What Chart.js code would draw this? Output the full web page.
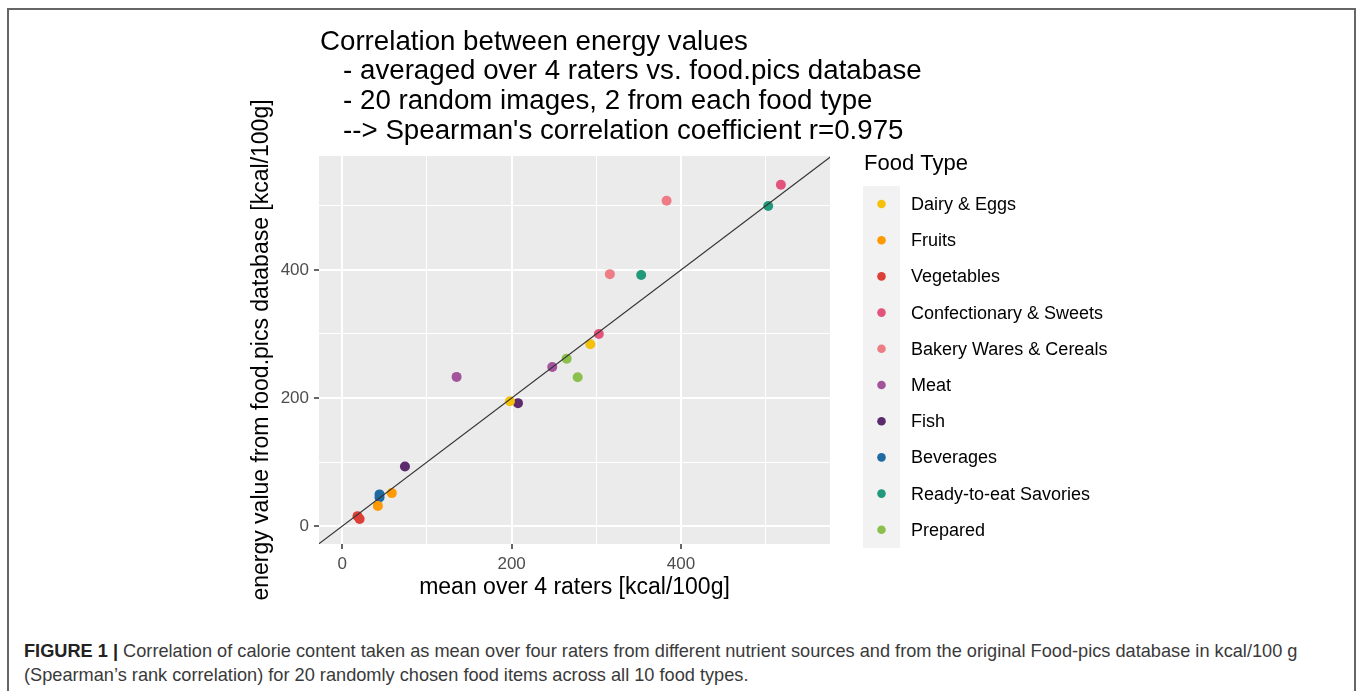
<!DOCTYPE html>
<html>
<head>
<meta charset="utf-8">
<script src="https://cdn.jsdelivr.net/npm/chart.js@4.4.0/dist/chart.umd.min.js"></script>
<style>
  body { margin: 0; background: #fff; width: 1358px; height: 691px; overflow: hidden; position: relative;
         font-family: "Liberation Sans", Arial, sans-serif; }
  #frame { position: absolute; left: 7px; top: 8px; width: 1349px; height: 720px;
           border: 2px solid #666; border-bottom: none; box-sizing: border-box; }
  #wrap { position: absolute; left: 0; top: 0; width: 1358px; height: 620px; }
  #caption { position: absolute; left: 24px; top: 639px; width: 1320px; font-size: 18.2px;
             line-height: 24px; color: #3a3a3a; white-space: nowrap; }
  #caption b { color: #222; }
</style>
</head>
<body>
<div id="frame"></div>
<div id="wrap"><canvas id="myChart"></canvas></div>
<div id="caption"><b>FIGURE 1 |</b> Correlation of calorie content taken as mean over four raters from different nutrient sources and from the original Food-pics database in kcal/100 g<br>(Spearman’s rank correlation) for 20 randomly chosen food items across all 10 food types.</div>

<script>
const foodTypes = ['Dairy & Eggs', 'Fruits', 'Vegetables', 'Confectionary & Sweets', 'Bakery Wares & Cereals',
    'Meat', 'Fish', 'Beverages', 'Ready-to-eat Savories', 'Prepared'];
const typeColors = ['#F4C20D', '#FD9A04', '#DC3F36', '#E2547B', '#EE7C87',
    '#A3529C', '#5B2B6E', '#1F6BA1', '#21997A', '#8CC04E'];

// one entry per image: food type index, mean over 4 raters, food.pics value
const pointType     = [0, 0, 1, 1, 2, 2, 3, 3, 4, 4, 5, 5, 6, 6, 7, 7, 8, 8, 9, 9];
const raterMean     = [198, 293, 42, 58.5, 18, 20.5, 303, 518, 316, 383, 135, 248, 74, 207.5, 44, 44, 353, 503, 265, 278];
const databaseValue = [195, 284, 31.5, 51.5, 15.5, 11, 300, 533, 393.5, 508, 233, 248.5, 93, 192, 49.5, 44.5, 392, 500, 261.5, 232.5];

const xTickValues = [0, 100, 200, 300, 400, 500];
const yTickValues = [0, 100, 200, 300, 400, 500];
const labeledTicks = [0, 200, 400];

const titleLines = [
    'Correlation between energy values',
    '   - averaged over 4 raters vs. food.pics database',
    '   - 20 random images, 2 from each food type',
    '   --> Spearman\'s correlation coefficient r=0.975'
];

const FONT = '"Liberation Sans", Arial, sans-serif';

const datasets = foodTypes.map((name, i) => ({
    label: name,
    data: raterMean.map((x, k) => ({ x: x, y: databaseValue[k] })).filter((p, k) => pointType[k] === i),
    backgroundColor: typeColors[i],
    borderWidth: 0,
    pointRadius: 5,
    order: 1
}));

// identity line y = x
datasets.push({
    label: 'identity',
    data: [{ x: -40, y: -40 }, { x: 600, y: 600 }],
    showLine: true,
    borderColor: '#333333',
    borderWidth: 1.2,
    pointRadius: 0,
    order: 0
});

const panelBackground = {
    id: 'panelBackground',
    beforeDraw(chart) {
        const { ctx, chartArea: a } = chart;
        ctx.save();
        ctx.fillStyle = '#EBEBEB';
        ctx.fillRect(a.left, a.top, a.right - a.left, a.bottom - a.top);
        ctx.restore();
    }
};

const titleAndLegend = {
    id: 'titleAndLegend',
    afterDraw(chart) {
        const { ctx, chartArea: a } = chart;
        ctx.save();
        ctx.textBaseline = 'middle';
        ctx.textAlign = 'left';
        ctx.fillStyle = '#000';
        ctx.font = '27.7px ' + FONT;
        titleLines.forEach((line, i) => {
            ctx.fillText(line, a.left + 1, a.top - 114 + i * 29.7);
        });

        // legend
        const lx = a.right + 33;
        ctx.font = '22px ' + FONT;
        ctx.fillText('Food Type', lx + 1, 164);
        ctx.fillStyle = '#F2F2F2';
        ctx.fillRect(lx, 186, 37, 362);
        ctx.font = '18px ' + FONT;
        foodTypes.forEach((name, i) => {
            const y = 204 + i * 36.2;
            ctx.fillStyle = typeColors[i];
            ctx.beginPath();
            ctx.arc(lx + 18.5, y, 4.3, 0, Math.PI * 2);
            ctx.fill();
            ctx.fillStyle = '#000';
            ctx.fillText(name, lx + 48, y + 1);
        });
        ctx.restore();
    }
};

function axisOptions(min, max, tickValues, fitFn, titleText, titlePadding) {
    return {
        type: 'linear',
        min: min,
        max: max,
        afterBuildTicks: scale => { scale.ticks = tickValues.map(v => ({ value: v })); },
        afterFit: fitFn,
        border: { display: false },
        grid: {
            color: '#FFFFFF',
            lineWidth: c => (c.tick && labeledTicks.includes(c.tick.value)) ? 2 : 1,
            drawTicks: true,
            tickLength: 5,
            tickWidth: 1.5,
            tickColor: c => (c.tick && labeledTicks.includes(c.tick.value)) ? '#333333' : 'rgba(0,0,0,0)'
        },
        ticks: {
            autoSkip: false,
            maxRotation: 0,
            color: '#4D4D4D',
            font: { size: 17, family: FONT },
            padding: 5,
            callback: v => labeledTicks.includes(v) ? String(v) : ''
        },
        title: {
            display: true,
            text: titleText,
            color: '#000',
            font: { size: 23, family: FONT, lineHeight: 1.2 },
            padding: titlePadding
        }
    };
}

function renderChart() {
    const ctx = document.getElementById('myChart').getContext('2d');
    new Chart(ctx, {
        type: 'scatter',
        data: { datasets: datasets },
        options: {
            responsive: true,
            maintainAspectRatio: false,
            animation: false,
            events: [],
            layout: { padding: { left: 240, right: 528, top: 156, bottom: 16 } },
            plugins: {
                legend: { display: false },
                tooltip: { enabled: false },
                title: { display: false }
            },
            scales: {
                x: axisOptions(-27.5, 576, xTickValues, s => { s.height = 60; },
                    'mean over 4 raters [kcal/100g]', { top: 0, bottom: 3 }),
                y: axisOptions(-28, 578, yTickValues, s => { s.width = 79; },
                    'energy value from food.pics database [kcal/100g]', { top: 8, bottom: 0 })
            }
        },
        plugins: [panelBackground, titleAndLegend]
    });
}

renderChart();
</script>
</body>
</html>
